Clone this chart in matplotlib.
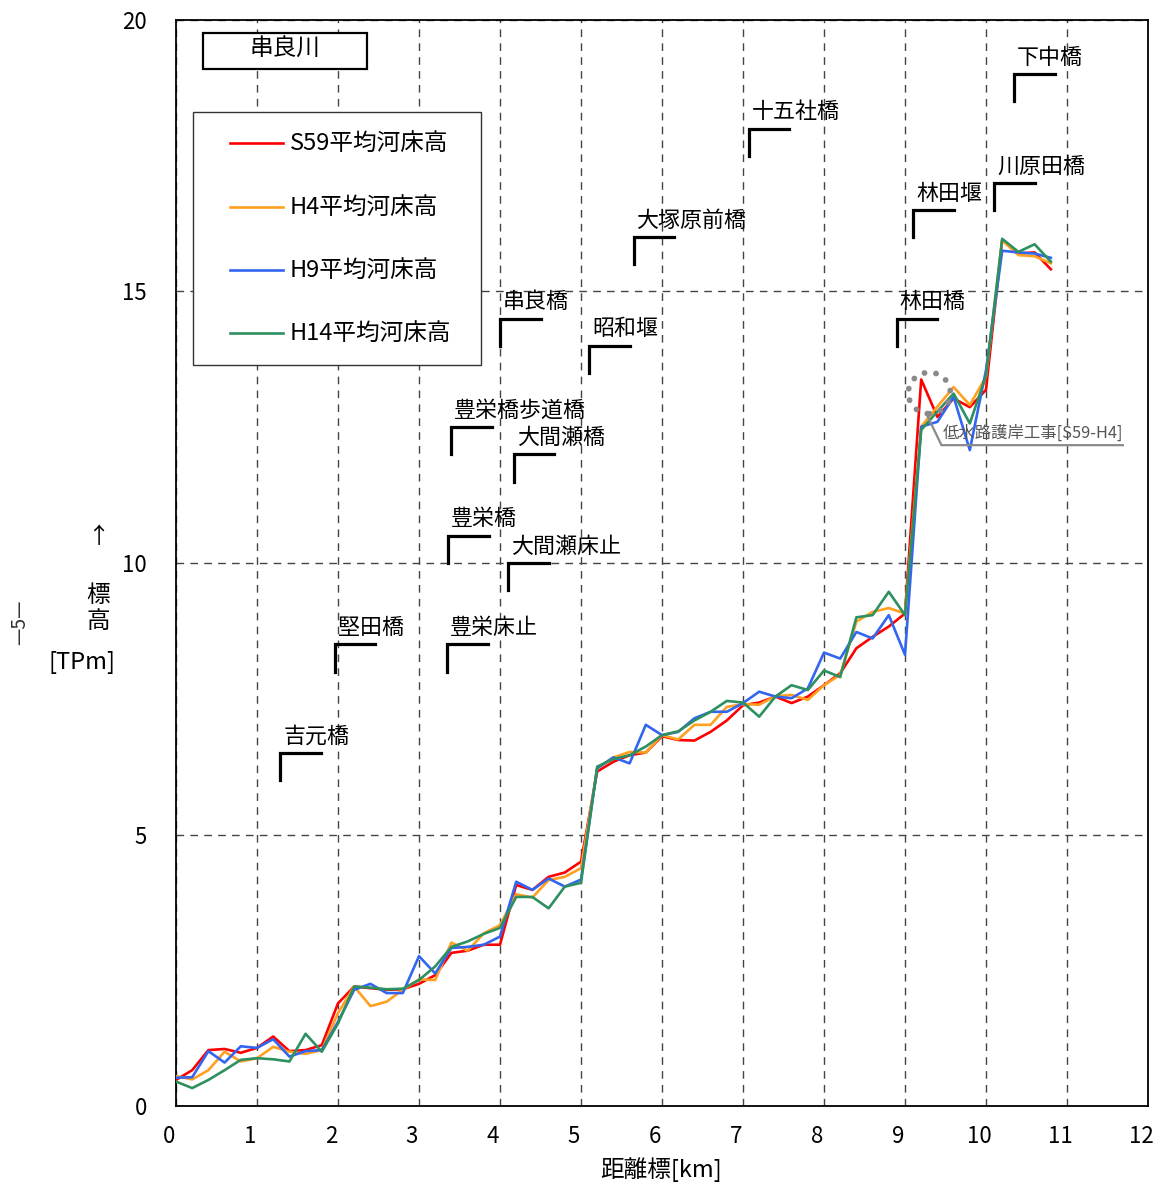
import matplotlib
matplotlib.use("Agg")
import matplotlib.pyplot as plt
from matplotlib.patches import Rectangle, Ellipse
from matplotlib.transforms import ScaledTranslation

plt.rcParams['font.family'] = ['Noto Sans CJK JP', 'DejaVu Sans']

# ---------------- data ----------------
distance = [0.0, 0.2, 0.4, 0.6, 0.8, 1.0, 1.2, 1.4, 1.6, 1.8,
            2.0, 2.2, 2.4, 2.6, 2.8, 3.0, 3.2, 3.4, 3.6, 3.8,
            4.0, 4.2, 4.4, 4.6, 4.8, 5.0, 5.2, 5.4, 5.6, 5.8,
            6.0, 6.2, 6.4, 6.6, 6.8, 7.0, 7.2, 7.4, 7.6, 7.8,
            8.0, 8.2, 8.4, 8.6, 8.8, 9.0, 9.2, 9.4, 9.6, 9.8,
            10.0, 10.2, 10.4, 10.6, 10.8]

s59 = [0.48, 0.66, 1.03, 1.05, 0.98, 1.07, 1.28, 1.01, 1.03, 1.12,
       1.89, 2.20, 2.17, 2.14, 2.15, 2.25, 2.41, 2.82, 2.86, 2.97,
       2.97, 4.07, 3.98, 4.22, 4.30, 4.50, 6.16, 6.34, 6.46, 6.51,
       6.81, 6.74, 6.73, 6.89, 7.10, 7.38, 7.43, 7.54, 7.42, 7.54,
       7.75, 7.97, 8.43, 8.64, 8.83, 9.07, 13.38, 12.69, 13.03, 12.87,
       13.19, 15.95, 15.70, 15.72, 15.41]

h4 = [0.55, 0.49, 0.66, 1.00, 0.82, 0.88, 1.09, 1.00, 0.96, 1.03,
      1.71, 2.20, 1.84, 1.92, 2.14, 2.33, 2.32, 3.01, 2.86, 3.18,
      3.33, 3.90, 3.84, 4.16, 4.22, 4.38, 6.22, 6.42, 6.52, 6.51,
      6.83, 6.75, 7.02, 7.02, 7.35, 7.40, 7.39, 7.55, 7.57, 7.48,
      7.75, 7.94, 8.92, 9.10, 9.17, 9.07, 12.51, 12.88, 13.24, 12.91,
      13.43, 15.94, 15.67, 15.65, 15.52]

h9 = [0.52, 0.53, 1.01, 0.80, 1.10, 1.07, 1.23, 0.91, 1.01, 1.03,
      1.55, 2.14, 2.25, 2.08, 2.08, 2.76, 2.44, 2.91, 2.93, 2.97,
      3.12, 4.13, 3.98, 4.19, 4.04, 4.17, 6.22, 6.42, 6.31, 7.02,
      6.83, 6.89, 7.14, 7.26, 7.26, 7.42, 7.63, 7.54, 7.51, 7.69,
      8.35, 8.24, 8.73, 8.61, 9.04, 8.31, 12.51, 12.60, 13.06, 12.08,
      13.55, 15.75, 15.72, 15.70, 15.62]

h14 = [0.45, 0.33, 0.48, 0.66, 0.85, 0.88, 0.86, 0.82, 1.33, 1.00,
       1.52, 2.20, 2.18, 2.15, 2.16, 2.32, 2.57, 2.93, 3.03, 3.17,
       3.28, 3.85, 3.85, 3.64, 4.04, 4.11, 6.25, 6.39, 6.46, 6.62,
       6.83, 6.90, 7.10, 7.26, 7.46, 7.43, 7.17, 7.54, 7.75, 7.66,
       8.02, 7.90, 9.00, 9.04, 9.47, 9.04, 12.45, 12.79, 13.12, 12.57,
       13.45, 15.97, 15.73, 15.87, 15.55]

series_labels = ['S59平均河床高', 'H4平均河床高', 'H9平均河床高', 'H14平均河床高']
series_values = [s59, h4, h9, h14]
series_colors = ['#ff0000', '#ffa020', '#3366f0', '#2e9060']

structure_names = ['吉元橋', '堅田橋', '豊栄床止', '豊栄橋', '大間瀬床止', '大間瀬橋',
                   '豊栄橋歩道橋', '串良橋', '昭和堰', '大塚原前橋', '十五社橋',
                   '林田橋', '林田堰', '川原田橋', '下中橋']
structure_km = [1.29, 1.96, 3.35, 3.36, 4.10, 4.17, 3.40, 4.00, 5.10, 5.65, 7.07,
                8.90, 9.10, 10.10, 10.35]
structure_base = [6.0, 8.0, 8.0, 10.0, 9.5, 11.5, 12.0, 14.0, 13.5, 15.5, 17.5,
                  14.0, 16.0, 16.5, 18.5]

xticks = [0, 1, 2, 3, 4, 5, 6, 7, 8, 9, 10, 11, 12]
yticks = [0, 5, 10, 15, 20]

# ---------------- figure ----------------
fig = plt.figure(figsize=(11.6, 11.86), dpi=100)
ax = fig.add_axes([176 / 1160, 1 - 1106 / 1186, 972 / 1160, 1086 / 1186])
ax.set_xlim(0, 12)
ax.set_ylim(0, 20)
ax.set_xticks(xticks)
ax.set_yticks(yticks)
ax.tick_params(length=0, labelsize=16, colors='black')
ax.tick_params(axis='x', pad=14)
ax.tick_params(axis='y', pad=21)
for lab in ax.get_xticklabels():
    lab.set_transform(lab.get_transform() + ScaledTranslation(-7 / 100, 0, fig.dpi_scale_trans))

ax.grid(True, color='#444444', linewidth=1.0, linestyle=(0, (5.5, 4.5)))
ax.set_axisbelow(True)
for sp in ax.spines.values():
    sp.set_color('black')
    sp.set_linewidth(1.3)

for lab, vals, col in zip(series_labels, series_values, series_colors):
    ax.plot(distance, vals, color=col, linewidth=1.9, label=lab, zorder=3)

# structure markers
for name, km, base in zip(structure_names, structure_km, structure_base):
    ax.plot([km, km, km + 0.5], [base, base + 0.5, base + 0.5], color='black',
            linewidth=2.3, solid_joinstyle='miter', zorder=4)
    ax.text(km + 0.035, base + 0.6, name, fontsize=15.8, ha='left', va='bottom', zorder=5)

# annotation for low-water channel revetment works
ax.add_patch(Ellipse((9.3, 13.13), 0.52, 0.76, fill=False, edgecolor='#8a8a8a',
                     linewidth=4.2, linestyle=(0, (0.01, 2.0)), capstyle='round', zorder=6))
ax.plot([9.27, 9.45, 11.69], [12.73, 12.17, 12.17], color='#8a8a8a', linewidth=1.6, zorder=6)
ax.text(9.47, 12.24, '低水路護岸工事[S59-H4]', fontsize=11.8, color='#555555',
        ha='left', va='bottom', zorder=6)

# title box
ax.add_patch(Rectangle((0.0278, 0.9549), 0.1687, 0.0331, transform=ax.transAxes,
                       facecolor='white', edgecolor='black', linewidth=1.6, zorder=7))
ax.text(0.1121, 0.9733, '串良川', transform=ax.transAxes, fontsize=17,
        ha='center', va='center', zorder=8)

# legend box (manual)
ax.add_patch(Rectangle((0.0175, 0.6823), 0.2963, 0.2330, transform=ax.transAxes,
                       facecolor='white', edgecolor='#333333', linewidth=1.0, zorder=7))
legend_rows = [0.8867, 0.8278, 0.7698, 0.7118]
for lab, col, ry in zip(series_labels, series_colors, legend_rows):
    ax.plot([0.0556, 0.1101], [ry, ry], color=col, linewidth=1.9,
            transform=ax.transAxes, zorder=8)
    ax.text(0.1173, ry, lab, transform=ax.transAxes, fontsize=17,
            ha='left', va='center', zorder=8)

# axis labels
fig.text(661 / 1160, 1 - 1170 / 1186, '距離標[km]', fontsize=17, ha='center', va='center')
fig.text(98 / 1160, 1 - 537 / 1186, '↑', fontsize=16, ha='center', va='center')
fig.text(98 / 1160, 1 - 595 / 1186, '標', fontsize=17, ha='center', va='center')
fig.text(98 / 1160, 1 - 622 / 1186, '高', fontsize=17, ha='center', va='center')
fig.text(82 / 1160, 1 - 662 / 1186, '[TPm]', fontsize=17, ha='center', va='center')

# page number
fig.text(20 / 1160, 1 - 622 / 1186, '—5—', fontsize=14, rotation=90,
         ha='center', va='center', color='#333333')

fig.savefig('out.png', dpi=100, facecolor='white')
